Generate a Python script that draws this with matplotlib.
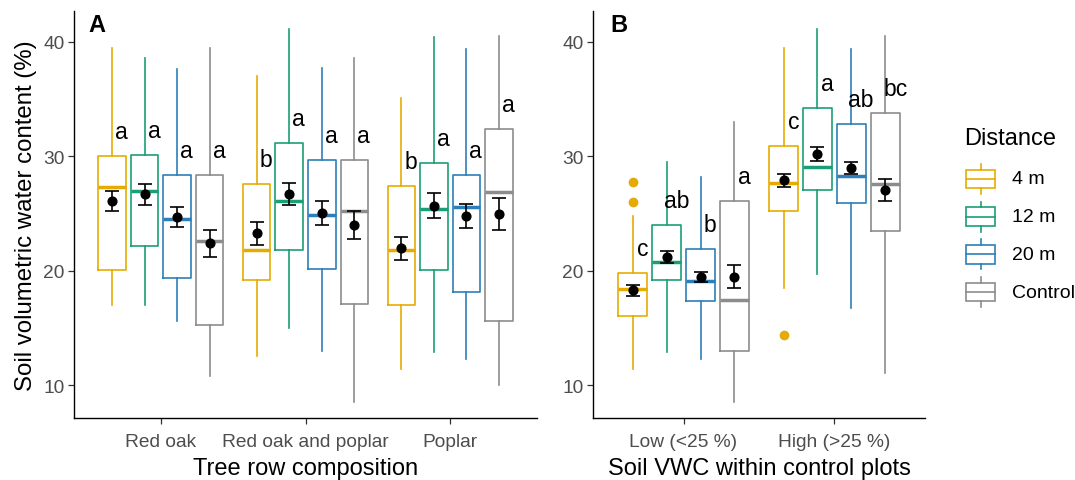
import matplotlib
matplotlib.use("Agg")
import matplotlib.pyplot as plt
import numpy as np

plt.rcParams['font.family'] = ['Liberation Sans', 'DejaVu Sans']

# ---- data ----
distances = ['4 m', '12 m', '20 m', 'Control']
colors = ['#E6AB02', '#1B9E77', '#2C7FB8', '#8C8C8C']

# Panel A: tree row composition
comp = ['Red oak', 'Red oak and poplar', 'Poplar']
a_whislo = [[17.0, 17.0, 15.6, 10.8], [12.6, 15.0, 13.0, 8.6], [11.4, 12.9, 12.3, 10.0]]
a_q1 = [[20.1, 22.2, 19.4, 15.3], [19.2, 21.8, 20.2, 17.1], [17.0, 20.1, 18.2, 15.6]]
a_med = [[27.3, 27.0, 24.5, 22.6], [21.8, 26.1, 24.9, 25.2], [21.8, 25.4, 25.6, 26.9]]
a_q3 = [[30.0, 30.1, 28.4, 28.4], [27.6, 31.2, 29.7, 29.7], [27.4, 29.4, 28.4, 32.4]]
a_whishi = [[39.5, 38.6, 37.6, 39.5], [37.0, 41.1, 37.7, 38.6], [35.1, 40.4, 39.4, 40.5]]
a_mean = [[26.1, 26.7, 24.7, 22.4], [23.3, 26.7, 25.1, 24.0], [22.0, 25.7, 24.8, 25.0]]
a_se = [[0.9, 0.9, 0.85, 1.2], [1.0, 0.95, 1.05, 1.25], [1.0, 1.1, 1.05, 1.4]]
a_fliers = [[[], [], [], []], [[], [], [], []], [[], [], [], []]]
a_letters = [['a', 'a', 'a', 'a'], ['b', 'a', 'a', 'a'], ['b', 'a', 'a', 'a']]

# Panel B: soil VWC within control plots
vwc = ['Low (<25 %)', 'High (>25 %)']
b_whislo = [[11.4, 12.9, 12.3, 8.6], [18.5, 19.7, 16.8, 11.1]]
b_q1 = [[16.1, 19.2, 17.4, 13.0], [25.2, 27.1, 25.9, 23.5]]
b_med = [[18.4, 20.8, 19.1, 17.5], [27.7, 29.1, 28.3, 27.6]]
b_q3 = [[19.8, 24.0, 21.9, 26.1], [30.9, 34.2, 32.8, 33.8]]
b_whishi = [[24.8, 29.5, 28.2, 33.0], [39.5, 41.1, 39.4, 40.5]]
b_mean = [[18.3, 21.2, 19.5, 19.5], [27.9, 30.2, 29.0, 27.1]]
b_se = [[0.5, 0.5, 0.45, 1.0], [0.6, 0.6, 0.55, 0.95]]
b_fliers = [[[27.8, 26.0], [], [], []], [[14.4], [], [], []]]
b_letters = [['c', 'ab', 'b', 'a'], ['c', 'a', 'ab', 'bc']]

W, H = 1075, 481
fig = plt.figure(figsize=(W / 100, H / 100), dpi=100)


def px(x0, y0, x1, y1):
    # pixel box -> figure fraction rect
    return [x0 / W, 1 - y1 / H, (x1 - x0) / W, (y1 - y0) / H]


axA = fig.add_axes(px(74, 12, 537, 419))
axB = fig.add_axes(px(593, 12, 925, 419))

dodge = 0.225
bw = 0.19


def panel(ax, cats, whislo, q1, med, q3, whishi, mean, se, fliers, letters):
    for g in range(len(cats)):
        for d in range(4):
            pos = g + 1 + (d - 1.5) * dodge
            c = colors[d]
            st = dict(whislo=whislo[g][d], q1=q1[g][d], med=med[g][d],
                      q3=q3[g][d], whishi=whishi[g][d], fliers=fliers[g][d])
            ax.bxp([st], positions=[pos], widths=bw, showcaps=False,
                   boxprops=dict(color=c, linewidth=1.2),
                   whiskerprops=dict(color=c, linewidth=1.2),
                   medianprops=dict(color=c, linewidth=2.5),
                   flierprops=dict(marker='o', markerfacecolor=c,
                                   markeredgecolor=c, markersize=6))
            ax.errorbar(pos, mean[g][d], yerr=se[g][d], fmt='o', color='black',
                        markersize=6.3, capsize=5, elinewidth=1.2,
                        capthick=1.2, zorder=5)
            ax.text(pos + 0.065, q3[g][d] + 2.15, letters[g][d], fontsize=16.5,
                    ha='center', va='center', color='black')
    ax.set_xlim(0.4, len(cats) + 0.6)
    ax.set_ylim(7.16, 42.7)
    ax.set_xticks(range(1, len(cats) + 1))
    ax.set_xticklabels(cats)
    ax.set_yticks([10, 20, 30, 40])
    for s in ['top', 'right']:
        ax.spines[s].set_visible(False)
    for s in ['left', 'bottom']:
        ax.spines[s].set_linewidth(1.0)
    ax.tick_params(axis='both', length=4, width=0.9, color='#333333',
                   labelcolor='#4D4D4D', labelsize=13.8, pad=3)
    ax.tick_params(axis='x', pad=6.5)


panel(axA, comp, a_whislo, a_q1, a_med, a_q3, a_whishi, a_mean, a_se,
      a_fliers, a_letters)
panel(axB, vwc, b_whislo, b_q1, b_med, b_q3, b_whishi, b_mean, b_se,
      b_fliers, b_letters)

axA.set_xlabel('Tree row composition', fontsize=17, labelpad=5)
axB.set_xlabel('Soil VWC within control plots', fontsize=17, labelpad=5)
axA.set_ylabel('Soil volumetric water content (%)', fontsize=17.3, labelpad=4)

fig.text(96.5 / W, 1 - 25.5 / H, 'A', fontsize=17, fontweight='bold',
         ha='center', va='center')
fig.text(619 / W, 1 - 25.5 / H, 'B', fontsize=17, fontweight='bold',
         ha='center', va='center')

# ---- legend drawn by hand ----
lax = fig.add_axes([0, 0, 1, 1])
lax.set_xlim(0, W)
lax.set_ylim(H, 0)
lax.axis('off')
lax.text(964, 139.5, 'Distance', fontsize=17, ha='left', va='center')
for i, (lab, c) in enumerate(zip(distances, colors)):
    yc = 180 + i * 37.7
    lax.plot([980.5, 980.5], [yc - 15, yc - 9.3], color=c, lw=1.2)
    lax.plot([980.5, 980.5], [yc + 9.3, yc + 15], color=c, lw=1.2)
    lax.add_patch(plt.Rectangle((965.5, yc - 9.3), 29.5, 18.6, fill=False,
                                edgecolor=c, lw=1.2))
    lax.plot([965.5, 995], [yc, yc], color=c, lw=1.2)
    lax.text(1012, yc, lab, fontsize=14, ha='left', va='center')

fig.savefig('out.png', dpi=100)
